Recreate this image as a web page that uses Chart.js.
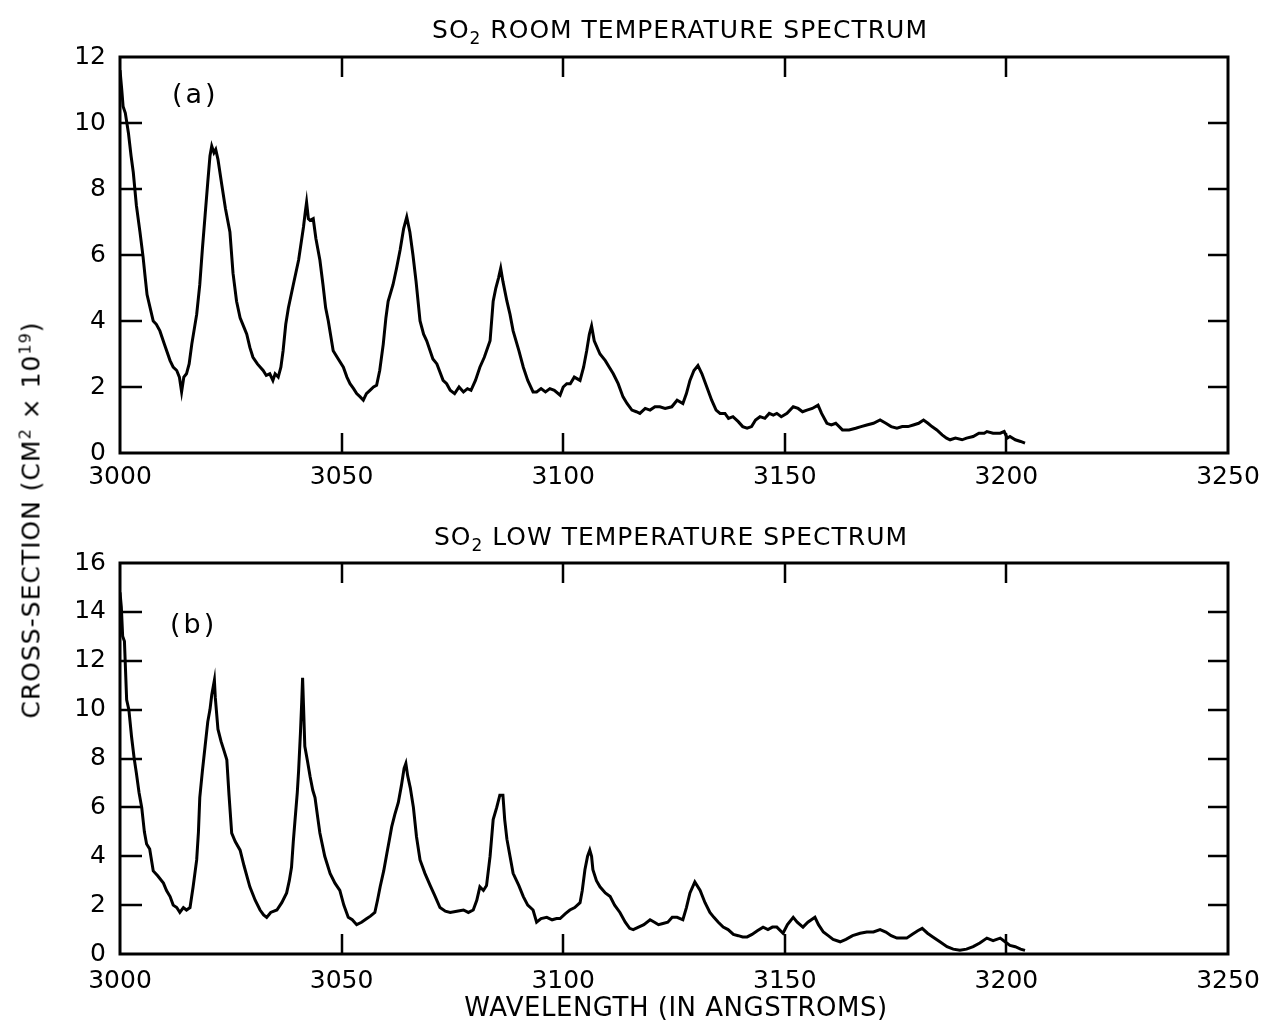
<!DOCTYPE html>
<html>
<head>
<meta charset="utf-8">
<script src="https://cdn.jsdelivr.net/npm/chart.js@4.4.1/dist/chart.umd.min.js"></script>
<style>
  body { margin: 0; background: #fff; }
  #page { position: relative; width: 1267px; height: 1030px; background: #fff; font-family: "DejaVu Sans", sans-serif; color: #000; }
  canvas { position: absolute; left: 0; }
  .txt { position: absolute; white-space: nowrap; line-height: 1; }
  .title { font-size: 25px; letter-spacing: 1px; transform: translateX(-50%); }
  .title sub { font-size: 17px; vertical-align: -6px; line-height: 0; }
  .panel { font-size: 27px; letter-spacing: 3px; }
  #ylab { font-size: 25px; letter-spacing: 1px; left: 31px; top: 520px; transform: translate(-50%, -50%) rotate(-90deg); }
  #ylab sup { font-size: 16px; vertical-align: 9px; line-height: 0; }
  #xlab { font-size: 26px; letter-spacing: 0.5px; left: 676px; top: 994px; transform: translateX(-50%); }
</style>
</head>
<body>
<div id="page">
  <canvas id="chartA" width="1267" height="500" style="top:0"></canvas>
  <canvas id="chartB" width="1267" height="530" style="top:500px"></canvas>
  <div class="txt title" style="left:680px; top:17px">SO<sub>2</sub> ROOM TEMPERATURE SPECTRUM</div>
  <div class="txt title" style="left:671px; top:524px">SO<sub>2</sub> LOW TEMPERATURE SPECTRUM</div>
  <div class="txt panel" style="left:172px; top:80px">(a)</div>
  <div class="txt panel" style="left:170px; top:610px">(b)</div>
  <div class="txt" id="ylab">CROSS-SECTION (CM<sup>2</sup> × 10<sup>19</sup>)</div>
  <div class="txt" id="xlab">WAVELENGTH (IN ANGSTROMS)</div>
</div>
<script>
// (a) room temperature spectrum
const wavelengthA = [3000.0, 3000.4, 3000.7, 3001.2, 3001.9, 3002.5, 3003.0, 3003.7, 3004.5, 3005.2, 3005.7, 3006.1, 3006.8, 3007.5, 3008.2, 3009.0, 3010.0, 3011.3, 3012.0, 3012.8, 3013.4, 3013.9, 3014.4, 3015.0, 3015.6, 3016.2, 3017.3, 3018.0, 3018.6, 3019.2, 3019.8, 3020.3, 3020.7, 3021.2, 3021.6, 3022.1, 3023.0, 3023.8, 3024.8, 3025.5, 3026.3, 3027.1, 3028.0, 3028.6, 3029.3, 3030.0, 3031.0, 3032.3, 3033.0, 3033.8, 3034.5, 3035.0, 3035.7, 3036.3, 3036.8, 3037.4, 3038.0, 3039.1, 3040.3, 3041.4, 3041.8, 3042.1, 3042.5, 3042.9, 3043.6, 3044.2, 3045.1, 3045.8, 3046.4, 3047.0, 3048.1, 3049.0, 3050.4, 3051.2, 3051.9, 3052.7, 3053.4, 3054.2, 3054.9, 3055.6, 3056.4, 3057.2, 3057.9, 3058.6, 3059.4, 3060.0, 3060.5, 3061.6, 3062.4, 3063.2, 3064.0, 3064.7, 3065.4, 3066.1, 3066.8, 3067.7, 3068.5, 3069.2, 3070.6, 3071.5, 3072.9, 3073.7, 3074.5, 3075.5, 3076.5, 3077.5, 3078.4, 3079.2, 3080.2, 3081.2, 3082.2, 3083.5, 3084.2, 3084.8, 3085.4, 3085.9, 3086.4, 3087.3, 3088.0, 3088.7, 3090.0, 3091.0, 3092.0, 3093.2, 3094.0, 3095.0, 3096.0, 3097.0, 3098.0, 3099.3, 3100.0, 3100.8, 3101.6, 3102.5, 3103.8, 3104.6, 3105.3, 3105.9, 3106.4, 3107.0, 3108.3, 3109.5, 3110.4, 3111.3, 3112.4, 3113.5, 3114.4, 3115.5, 3116.5, 3117.3, 3118.5, 3119.6, 3120.7, 3121.8, 3123.0, 3124.5, 3125.7, 3127.0, 3127.8, 3128.6, 3129.5, 3130.4, 3131.3, 3132.4, 3133.5, 3134.5, 3135.4, 3136.5, 3137.3, 3138.3, 3139.5, 3140.5, 3141.5, 3142.5, 3143.4, 3144.4, 3145.5, 3146.5, 3147.4, 3148.2, 3149.2, 3150.5, 3151.9, 3153.0, 3154.0, 3155.0, 3156.2, 3157.5, 3158.3, 3159.5, 3160.5, 3161.5, 3163.0, 3164.5, 3166.0, 3167.2, 3168.5, 3170.0, 3171.5, 3172.8, 3174.0, 3175.3, 3176.5, 3177.8, 3179.0, 3180.2, 3181.3, 3182.3, 3183.2, 3184.3, 3185.5, 3186.5, 3187.3, 3188.5, 3190.0, 3191.0, 3192.5, 3193.8, 3195.0, 3195.6, 3197.0, 3198.6, 3199.5, 3200.2, 3200.8, 3202.0, 3203.2, 3204.2];
const crossA = [11.6, 11.0, 10.5, 10.3, 9.7, 9.0, 8.5, 7.5, 6.7, 5.95, 5.3, 4.8, 4.4, 4.0, 3.9, 3.7, 3.3, 2.8, 2.6, 2.5, 2.3, 1.85, 2.3, 2.4, 2.7, 3.3, 4.2, 5.1, 6.2, 7.2, 8.2, 9.0, 9.3, 9.1, 9.2, 8.9, 8.1, 7.4, 6.7, 5.45, 4.6, 4.1, 3.8, 3.6, 3.2, 2.9, 2.7, 2.5, 2.35, 2.4, 2.2, 2.4, 2.3, 2.6, 3.1, 3.9, 4.4, 5.1, 5.85, 6.85, 7.3, 7.6, 7.1, 7.05, 7.1, 6.5, 5.85, 5.1, 4.4, 4.0, 3.1, 2.9, 2.6, 2.3, 2.1, 1.95, 1.8, 1.7, 1.6, 1.8, 1.9, 2.0, 2.05, 2.5, 3.3, 4.1, 4.6, 5.1, 5.6, 6.15, 6.8, 7.15, 6.7, 6.0, 5.2, 4.0, 3.6, 3.4, 2.85, 2.7, 2.2, 2.1, 1.9, 1.8, 2.0, 1.85, 1.95, 1.9, 2.2, 2.6, 2.9, 3.4, 4.6, 5.0, 5.3, 5.6, 5.2, 4.6, 4.2, 3.7, 3.1, 2.6, 2.2, 1.85, 1.85, 1.95, 1.85, 1.95, 1.9, 1.75, 2.0, 2.1, 2.1, 2.3, 2.2, 2.6, 3.1, 3.6, 3.85, 3.4, 3.0, 2.8, 2.6, 2.4, 2.1, 1.7, 1.5, 1.3, 1.25, 1.2, 1.35, 1.3, 1.4, 1.4, 1.35, 1.4, 1.6, 1.5, 1.8, 2.2, 2.5, 2.65, 2.4, 2.0, 1.6, 1.3, 1.2, 1.2, 1.05, 1.1, 0.95, 0.8, 0.75, 0.8, 1.0, 1.1, 1.05, 1.2, 1.15, 1.2, 1.1, 1.2, 1.4, 1.35, 1.25, 1.3, 1.35, 1.45, 1.2, 0.9, 0.85, 0.9, 0.7, 0.7, 0.75, 0.8, 0.85, 0.9, 1.0, 0.9, 0.8, 0.75, 0.8, 0.8, 0.85, 0.9, 1.0, 0.9, 0.8, 0.7, 0.55, 0.45, 0.4, 0.45, 0.4, 0.45, 0.5, 0.6, 0.6, 0.65, 0.6, 0.6, 0.65, 0.45, 0.5, 0.4, 0.35, 0.3];

// (b) low temperature spectrum
const wavelengthB = [3000.0, 3000.3, 3000.6, 3001.0, 3001.5, 3002.0, 3002.6, 3003.2, 3003.7, 3004.3, 3004.9, 3005.5, 3006.0, 3006.7, 3007.5, 3008.5, 3009.8, 3010.5, 3011.3, 3012.0, 3012.8, 3013.5, 3014.3, 3015.0, 3015.8, 3016.5, 3017.3, 3017.7, 3018.0, 3018.6, 3019.2, 3019.8, 3020.3, 3020.7, 3021.0, 3021.3, 3021.5, 3022.1, 3022.8, 3023.5, 3024.1, 3024.6, 3025.2, 3026.0, 3027.1, 3028.0, 3029.3, 3030.5, 3031.6, 3032.4, 3033.1, 3034.0, 3035.4, 3036.5, 3037.6, 3038.2, 3038.7, 3039.1, 3039.5, 3040.0, 3040.3, 3040.7, 3041.0, 3041.2, 3041.4, 3041.7, 3042.3, 3042.9, 3043.5, 3044.0, 3044.6, 3045.1, 3046.2, 3047.4, 3048.5, 3049.6, 3050.5, 3051.5, 3052.4, 3053.4, 3054.5, 3055.7, 3056.5, 3057.5, 3058.1, 3058.7, 3059.5, 3060.2, 3060.8, 3061.3, 3062.0, 3062.8, 3063.5, 3064.1, 3064.5, 3064.9, 3065.5, 3066.2, 3066.9, 3067.7, 3068.8, 3070.0, 3071.0, 3072.2, 3073.4, 3074.5, 3076.0, 3077.5, 3078.6, 3079.7, 3080.5, 3081.2, 3082.0, 3082.7, 3083.5, 3084.2, 3085.0, 3085.7, 3086.4, 3086.8, 3087.3, 3088.0, 3088.7, 3090.0, 3091.0, 3092.0, 3093.2, 3094.0, 3095.0, 3096.3, 3097.5, 3098.5, 3099.3, 3100.5, 3101.5, 3102.6, 3103.8, 3104.3, 3104.9, 3105.5, 3106.0, 3106.4, 3106.7, 3107.5, 3108.3, 3109.5, 3110.6, 3111.6, 3112.8, 3114.0, 3115.0, 3115.8, 3117.0, 3118.2, 3119.6, 3120.6, 3121.5, 3122.5, 3123.6, 3124.6, 3125.7, 3127.0, 3127.8, 3128.6, 3129.7, 3130.9, 3132.0, 3133.1, 3134.0, 3135.0, 3136.1, 3137.2, 3138.4, 3139.5, 3140.5, 3141.5, 3142.6, 3143.8, 3145.1, 3146.2, 3147.2, 3148.2, 3149.6, 3150.6, 3151.9, 3152.8, 3154.1, 3155.2, 3156.8, 3157.6, 3158.7, 3159.8, 3160.9, 3162.5, 3163.8, 3165.3, 3167.0, 3168.5, 3170.0, 3171.5, 3172.8, 3174.0, 3175.3, 3176.5, 3177.5, 3178.7, 3180.0, 3181.0, 3182.2, 3183.4, 3185.0, 3186.6, 3188.0, 3189.5, 3191.0, 3192.5, 3194.0, 3195.6, 3197.0, 3198.6, 3199.7, 3200.8, 3202.0, 3203.2, 3204.2];
const crossB = [14.8, 14.2, 13.0, 12.8, 10.4, 10.0, 8.9, 8.0, 7.4, 6.6, 6.0, 5.0, 4.5, 4.3, 3.4, 3.2, 2.9, 2.6, 2.35, 2.0, 1.9, 1.7, 1.9, 1.8, 1.9, 2.75, 3.85, 5.0, 6.4, 7.5, 8.5, 9.5, 10.0, 10.6, 10.9, 11.2, 10.5, 9.2, 8.7, 8.3, 7.95, 6.5, 4.95, 4.6, 4.25, 3.6, 2.75, 2.2, 1.8, 1.6, 1.5, 1.7, 1.8, 2.1, 2.5, 3.0, 3.55, 4.6, 5.5, 6.6, 7.5, 9.0, 10.3, 11.3, 10.2, 8.5, 7.9, 7.25, 6.7, 6.4, 5.6, 4.95, 4.0, 3.3, 2.9, 2.6, 2.0, 1.5, 1.4, 1.2, 1.3, 1.45, 1.55, 1.7, 2.2, 2.75, 3.4, 4.1, 4.7, 5.2, 5.7, 6.2, 6.9, 7.6, 7.8, 7.3, 6.8, 6.0, 4.8, 3.85, 3.3, 2.8, 2.4, 1.9, 1.75, 1.7, 1.75, 1.8, 1.7, 1.8, 2.2, 2.75, 2.6, 2.8, 4.0, 5.5, 6.0, 6.5, 6.5, 5.5, 4.7, 4.0, 3.3, 2.8, 2.35, 2.0, 1.8, 1.3, 1.45, 1.5, 1.4, 1.45, 1.45, 1.65, 1.8, 1.9, 2.1, 2.6, 3.45, 4.0, 4.25, 4.0, 3.45, 3.0, 2.75, 2.5, 2.35, 2.0, 1.7, 1.3, 1.05, 1.0, 1.1, 1.2, 1.4, 1.3, 1.2, 1.25, 1.3, 1.5, 1.5, 1.4, 1.9, 2.5, 2.95, 2.6, 2.1, 1.7, 1.5, 1.3, 1.1, 1.0, 0.8, 0.75, 0.7, 0.7, 0.8, 0.95, 1.1, 1.0, 1.1, 1.1, 0.85, 1.2, 1.5, 1.3, 1.1, 1.3, 1.5, 1.2, 0.9, 0.75, 0.6, 0.5, 0.6, 0.75, 0.85, 0.9, 0.9, 1.0, 0.9, 0.75, 0.65, 0.65, 0.65, 0.8, 0.95, 1.05, 0.85, 0.7, 0.5, 0.3, 0.2, 0.15, 0.2, 0.3, 0.45, 0.65, 0.55, 0.65, 0.5, 0.35, 0.3, 0.2, 0.15];

const xTickStep = 50;
const yMaxA = 12;
const yMaxB = 16;

const yTickFont = { family: "DejaVu Sans", size: 25 };

// box round the plot area with inward ticks on all four sides
const framePlugin = {
  id: "frame",
  afterDatasetsDraw(chart) {
    const { ctx, chartArea: a, scales: { x, y } } = chart;
    ctx.save();
    ctx.strokeStyle = "#000";
    ctx.lineWidth = 3;
    ctx.strokeRect(a.left, a.top, a.right - a.left, a.bottom - a.top);
    ctx.lineWidth = 2.5;
    ctx.beginPath();
    x.ticks.forEach((t) => {
      if (t.value <= x.min || t.value >= x.max) return;
      const px = Math.round(x.getPixelForValue(t.value));
      ctx.moveTo(px, a.top);
      ctx.lineTo(px, a.top + 20);
      ctx.moveTo(px, a.bottom);
      ctx.lineTo(px, a.bottom - 20);
    });
    y.ticks.forEach((t) => {
      if (t.value <= y.min || t.value >= y.max) return;
      const py = Math.round(y.getPixelForValue(t.value));
      ctx.moveTo(a.left, py);
      ctx.lineTo(a.left + 22, py);
      ctx.moveTo(a.right, py);
      ctx.lineTo(a.right - 20, py);
    });
    ctx.stroke();
    ctx.restore();
  },
};

function makeChart(id, xs, ys, yMax, padTop, xAxisHeight, xLineHeight) {
  const points = xs.map((w, i) => ({ x: w, y: ys[i] }));
  return new Chart(document.getElementById(id), {
    type: "scatter",
    data: {
      datasets: [
        {
          data: points,
          showLine: true,
          borderColor: "#000",
          borderWidth: 3,
          pointRadius: 0,
          tension: 0,
        },
      ],
    },
    options: {
      responsive: false,
      animation: false,
      layout: { padding: { top: padTop, right: 39, left: 0, bottom: 0 } },
      plugins: { legend: { display: false }, tooltip: { enabled: false } },
      scales: {
        x: {
          type: "linear",
          min: 3000,
          max: 3250,
          afterFit: (s) => { s.height = xAxisHeight; },
          grid: { display: false, drawTicks: false },
          border: { display: false },
          ticks: {
            stepSize: xTickStep,
            autoSkip: false,
            maxRotation: 0,
            padding: 5,
            color: "#000",
            font: { family: "DejaVu Sans", size: 25, lineHeight: xLineHeight },
            callback: (v) => String(v),
          },
        },
        y: {
          min: 0,
          max: yMax,
          afterFit: (s) => { s.width = 120; },
          grid: { display: false, drawTicks: false },
          border: { display: false },
          ticks: {
            stepSize: 2,
            padding: 14,
            color: "#000",
            font: yTickFont,
            callback: (v) => String(v),
          },
        },
      },
    },
    plugins: [framePlugin],
  });
}

makeChart("chartA", wavelengthA, crossA, yMaxA, 57, 47, 1.55);
makeChart("chartB", wavelengthB, crossB, yMaxB, 63, 76, 1.8);
</script>
</body>
</html>
